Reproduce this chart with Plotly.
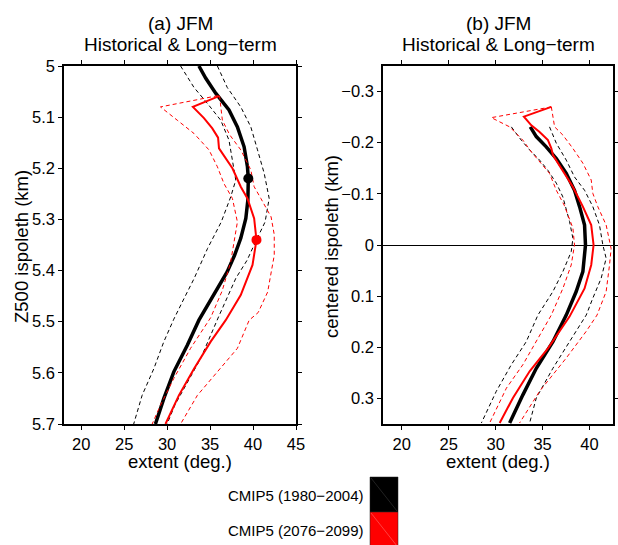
import plotly.graph_objects as go

# ---------------- Panel (a): Z500 isopleth (km) vs extent (deg.) ----------------
a_hist_mean_x = [33.7, 34.5, 35.65, 37.2, 38.18, 38.96, 39.35, 39.45, 39.4, 39.16, 38.57, 37.85, 37.0, 35.35, 33.7, 32.35, 30.78, 29.62, 28.64]
a_hist_mean_y = [5.000, 5.024, 5.053, 5.086, 5.119, 5.158, 5.197, 5.220, 5.262, 5.298, 5.337, 5.370, 5.402, 5.450, 5.497, 5.546, 5.598, 5.650, 5.700]

a_hist_lo_x = [31.57, 33.13, 34.68, 36.24, 37.2, 37.6, 37.99, 37.4, 36.3, 34.7, 33.13, 31.96, 30.78, 29.62, 28.45, 27.09, 26.11]
a_hist_lo_y = [5.000, 5.042, 5.073, 5.106, 5.145, 5.184, 5.223, 5.256, 5.305, 5.357, 5.416, 5.455, 5.495, 5.539, 5.592, 5.644, 5.700]

a_hist_hi_x = [35.85, 37.0, 38.57, 39.74, 40.52, 41.3, 41.88, 41.4, 40.4, 39.3, 38.0, 36.9, 36.0, 33.9, 32.35, 30.9, 30.0]
a_hist_hi_y = [5.000, 5.042, 5.080, 5.119, 5.164, 5.210, 5.259, 5.305, 5.340, 5.380, 5.415, 5.455, 5.490, 5.572, 5.618, 5.663, 5.700]

a_fut_mean_x = [36.04, 33.0, 34.29, 35.26, 35.93, 36.04, 37.6, 38.57, 39.35, 40.13, 40.4, 39.94, 38.57, 36.82, 35.07, 33.13, 31.37, 29.81]
a_fut_mean_y = [5.059, 5.080, 5.102, 5.122, 5.140, 5.161, 5.200, 5.236, 5.259, 5.298, 5.340, 5.389, 5.448, 5.497, 5.539, 5.592, 5.644, 5.700]

a_fut_lo_x = [35.9, 29.23, 31.18, 33.13, 34.87, 35.85, 36.62, 37.6, 38.18, 37.4, 36.4, 35.07, 32.73, 30.78, 29.23, 28.26]
a_fut_lo_y = [5.058, 5.080, 5.106, 5.132, 5.164, 5.197, 5.230, 5.259, 5.305, 5.383, 5.440, 5.492, 5.552, 5.611, 5.663, 5.700]

a_fut_hi_x = [36.1, 36.24, 36.43, 37.3, 38.57, 39.74, 40.13, 40.91, 42.1, 42.47, 42.47, 41.7, 40.6, 39.55, 38.18, 35.85, 33.52, 31.57]
a_fut_hi_y = [5.058, 5.075, 5.106, 5.135, 5.164, 5.203, 5.236, 5.259, 5.295, 5.330, 5.370, 5.442, 5.482, 5.497, 5.552, 5.598, 5.644, 5.700]

a_hist_peak = (39.45, 5.22)
a_fut_peak = (40.4, 5.34)

# ---------------- Panel (b): centered isopleth (km) vs extent (deg.) ----------------
b_hist_mean_x = [33.69, 34.33, 35.39, 36.46, 37.52, 38.4, 38.94, 39.47, 39.57, 39.29, 38.58, 37.52, 36.1, 34.33, 32.9, 31.49]
b_hist_mean_y = [-0.231, -0.212, -0.192, -0.169, -0.140, -0.107, -0.075, -0.039, 0.000, 0.052, 0.091, 0.137, 0.189, 0.241, 0.293, 0.348]

b_hist_lo_x = [31.67, 32.73, 33.62, 34.68, 35.57, 36.46, 37.16, 37.52, 37.87, 38.23, 38.05, 37.16, 36.1, 34.5, 33.26, 31.67, 30.07, 28.48]
b_hist_lo_y = [-0.231, -0.205, -0.186, -0.166, -0.146, -0.121, -0.094, -0.070, -0.046, -0.013, 0.013, 0.052, 0.091, 0.137, 0.189, 0.234, 0.286, 0.348]

b_hist_hi_x = [35.74, 36.46, 37.52, 38.4, 39.47, 40.35, 41.06, 41.42, 41.77, 41.24, 40.35, 39.65, 37.87, 36.1, 34.33, 33.62]
b_hist_hi_y = [-0.231, -0.199, -0.166, -0.133, -0.107, -0.075, -0.039, 0.000, 0.026, 0.065, 0.104, 0.137, 0.189, 0.241, 0.299, 0.348]

b_fut_mean_x = [35.93, 33.01, 33.8, 34.68, 35.57, 35.93, 36.1, 37.16, 38.22, 39.29, 40.18, 40.43, 40.18, 39.47, 37.87, 35.57, 33.62, 31.84, 30.43]
b_fut_mean_y = [-0.270, -0.251, -0.234, -0.221, -0.205, -0.189, -0.176, -0.146, -0.114, -0.075, -0.039, 0.000, 0.039, 0.085, 0.140, 0.202, 0.247, 0.299, 0.348]

b_fut_lo_x = [35.93, 29.54, 31.49, 32.9, 33.8, 34.68, 35.74, 36.46, 37.3, 38.23, 38.4, 38.05, 37.16, 35.93, 34.33, 32.9, 31.14, 29.36]
b_fut_lo_y = [-0.270, -0.249, -0.231, -0.205, -0.182, -0.163, -0.140, -0.107, -0.078, -0.033, 0.000, 0.039, 0.085, 0.137, 0.189, 0.234, 0.280, 0.348]

b_fut_hi_x = [35.93, 36.28, 37.16, 38.22, 39.29, 40.18, 40.35, 40.88, 41.77, 42.3, 42.13, 41.77, 40.8, 39.64, 37.52, 34.68, 32.55]
b_fut_hi_y = [-0.270, -0.231, -0.215, -0.189, -0.160, -0.127, -0.101, -0.075, -0.039, 0.007, 0.039, 0.091, 0.137, 0.169, 0.221, 0.286, 0.348]

a_xticks = [20, 25, 30, 35, 40, 45]
a_yticks = [5.0, 5.1, 5.2, 5.3, 5.4, 5.5, 5.6, 5.7]
b_xticks = [20, 25, 30, 35, 40]
b_yticks = [-0.3, -0.2, -0.1, 0.0, 0.1, 0.2, 0.3]

panel_titles = ["(a) JFM", "(b) JFM"]
panel_subtitle = "Historical & Long\u2212term"
x_title = "extent (deg.)"
y_titles = ["Z500 ispoleth (km)", "centered ispoleth (km)"]

legend_labels = ["CMIP5 (1980\u22122004)", "CMIP5 (2076\u22122099)"]
legend_colors = ["#000000", "#ff0000"]

FONT = "Liberation Sans, Arial, Helvetica, sans-serif"
W, H = 618, 545

def px(x):
    return x / W

def py(y):
    return 1 - y / H

fig = go.Figure()

DASH = "4px,3px"

def add_set(panel, mean, lo, hi, color, mean_w):
    xref = "x" if panel == 1 else "x2"
    yref = "y" if panel == 1 else "y2"
    for (xs, ys) in (lo, hi):
        fig.add_trace(go.Scatter(x=xs, y=ys, mode="lines", xaxis=xref, yaxis=yref,
                                 line=dict(color=color, width=1, dash=DASH),
                                 showlegend=False, hoverinfo="skip"))
    fig.add_trace(go.Scatter(x=mean[0], y=mean[1], mode="lines", xaxis=xref, yaxis=yref,
                             line=dict(color=color, width=mean_w),
                             showlegend=False))

# panel a
add_set(1, (a_hist_mean_x, a_hist_mean_y), (a_hist_lo_x, a_hist_lo_y), (a_hist_hi_x, a_hist_hi_y), "#000000", 3.5)
add_set(1, (a_fut_mean_x, a_fut_mean_y), (a_fut_lo_x, a_fut_lo_y), (a_fut_hi_x, a_fut_hi_y), "#ff0000", 2)
fig.add_trace(go.Scatter(x=[a_hist_peak[0]], y=[a_hist_peak[1]], mode="markers", xaxis="x", yaxis="y",
                         marker=dict(color="#000000", size=10), showlegend=False))
fig.add_trace(go.Scatter(x=[a_fut_peak[0]], y=[a_fut_peak[1]], mode="markers", xaxis="x", yaxis="y",
                         marker=dict(color="#ff0000", size=10), showlegend=False))

# panel b
add_set(2, (b_hist_mean_x, b_hist_mean_y), (b_hist_lo_x, b_hist_lo_y), (b_hist_hi_x, b_hist_hi_y), "#000000", 3.5)
add_set(2, (b_fut_mean_x, b_fut_mean_y), (b_fut_lo_x, b_fut_lo_y), (b_fut_hi_x, b_fut_hi_y), "#ff0000", 2)

axis_common = dict(showline=True, linecolor="black", linewidth=1.5, mirror="allticks",
                   ticks="outside", ticklen=4, tickwidth=1, tickcolor="black",
                   showgrid=False, zeroline=False, automargin=False,
                   tickfont=dict(family=FONT, size=16.5, color="black"))

ydom = [py(424), py(66)]
xdom_a = [px(64), px(296)]
xdom_b = [px(383), px(613)]

fig.update_layout(
    width=W, height=H,
    margin=dict(l=0, r=0, t=0, b=0, pad=0, autoexpand=False),
    paper_bgcolor="white", plot_bgcolor="white",
    showlegend=False,
    xaxis=dict(domain=xdom_a, range=[18, 45], tickvals=a_xticks, anchor="y", **axis_common),
    yaxis=dict(domain=ydom, range=[5.7, 5.0], tickvals=a_yticks,
               ticktext=[("%g" % v) for v in a_yticks], anchor="x", **axis_common),
    xaxis2=dict(domain=xdom_b, range=[18, 42.5], tickvals=b_xticks, anchor="y2", **axis_common),
    yaxis2=dict(domain=ydom, range=[0.35, -0.35], tickvals=b_yticks,
                ticktext=[("%g" % v).replace("-", "\u2212") for v in b_yticks], anchor="x2", **axis_common),
)
fig.layout.yaxis2.zeroline = True
fig.layout.yaxis2.zerolinecolor = "black"
fig.layout.yaxis2.zerolinewidth = 1

# titles
for cx, lbl in ((180, panel_titles[0]), (498, panel_titles[1])):
    fig.add_annotation(x=px(cx), y=py(23), xref="paper", yref="paper", text=lbl, showarrow=False,
                       xanchor="center", yanchor="middle", font=dict(family=FONT, size=19, color="black"))
    fig.add_annotation(x=px(cx), y=py(45), xref="paper", yref="paper", text=panel_subtitle,
                       showarrow=False, xanchor="center", yanchor="middle",
                       font=dict(family=FONT, size=19, color="black"))

# axis titles
for cx in (180, 498):
    fig.add_annotation(x=px(cx), y=py(461), xref="paper", yref="paper", text=x_title, showarrow=False,
                       xanchor="center", yanchor="middle", font=dict(family=FONT, size=18.5, color="black"))
for cx, t in ((21, y_titles[0]), (331, y_titles[1])):
    fig.add_annotation(x=px(cx), y=py(247), xref="paper", yref="paper", text=t, showarrow=False,
                       textangle=-90, xanchor="center", yanchor="middle",
                       font=dict(family=FONT, size=18.5, color="black"))

# legend boxes
box_tops = [477, 512]
box_h = 35
diag_colors = ["#444444", "#ff8080"]
for i, (lbl, col) in enumerate(zip(legend_labels, legend_colors)):
    t = box_tops[i]
    fig.add_shape(type="rect", xref="paper", yref="paper", x0=px(370), x1=px(398),
                  y0=py(t + box_h), y1=py(t), fillcolor=col, line=dict(color="#222222", width=0.5))
    fig.add_shape(type="line", xref="paper", yref="paper", x0=px(371), x1=px(397),
                  y0=py(t + 1), y1=py(t + box_h - 1), line=dict(color=diag_colors[i], width=0.5))
    fig.add_annotation(x=px(366), y=py(t + 18), xref="paper", yref="paper", text=lbl, showarrow=False,
                       xanchor="right", yanchor="middle", font=dict(family=FONT, size=15, color="black"))

fig.write_html("out.html")
